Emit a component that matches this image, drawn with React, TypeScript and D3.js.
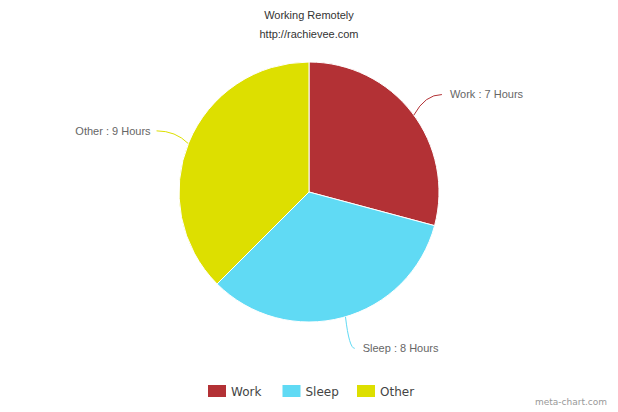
import { pie, arc, scalePoint } from 'd3';

// Data
const categories = ['Work', 'Sleep', 'Other'];
const hours = [7, 8, 9];
const sliceColors = ['#b33135', '#60daf4', '#dddf00'];

const title = 'Working Remotely';
const subtitle = 'http://rachievee.com';
const credits = 'meta-chart.com';

// Layout
const width = 618;
const height = 412;
const cx = 309;
const cy = 192;
const radius = 130;
const labelRadius = 165;
// small per-label tweaks so the connectors end where the original's do
const labelNudge: Record<string, [number, number]> = {
  Work: [2, 3],
  Sleep: [3, -3],
  Other: [0, 2],
};

type Slice = { name: string; value: number; color: string };

export default function App() {
  const slices: Slice[] = categories.map((name, i) => ({
    name,
    value: hours[i],
    color: sliceColors[i],
  }));

  const arcs = pie<Slice>()
    .value((d) => d.value)
    .sort(null)(slices);

  const arcGen = arc<any>().innerRadius(0).outerRadius(radius);

  const legendX = scalePoint<string>()
    .domain(categories)
    .range([208, 357]);

  return (
    <svg
      width={width}
      height={height}
      style={{ position: 'absolute', left: 0, top: 0, background: '#fff' }}
      fontFamily="'Liberation Sans', Arial, sans-serif"
    >
      <text x={cx} y={19} textAnchor="middle" fontSize={11} fill="#333">
        {title}
      </text>
      <text x={cx} y={38} textAnchor="middle" fontSize={11} fill="#333">
        {subtitle}
      </text>

      <g transform={`translate(${cx},${cy})`}>
        {arcs.map((a) => (
          <path
            key={a.data.name}
            d={arcGen(a) as string}
            fill={a.data.color}
            stroke="#fff"
            strokeWidth={1}
          />
        ))}

        {arcs.map((a) => {
          const mid = (a.startAngle + a.endAngle) / 2;
          const [nx, ny] = labelNudge[a.data.name] ?? [0, 0];
          const ex = Math.sin(mid) * labelRadius + nx;
          const ey = -Math.cos(mid) * labelRadius + ny;
          const len = Math.hypot(ex, ey);
          const sx = (ex / len) * radius;
          const sy = (ey / len) * radius;
          const right = ex > 0;
          const qx = sx + (ex - sx) * 0.4;
          return (
            <g key={a.data.name + '-label'}>
              <path
                d={`M${sx},${sy}Q${qx},${ey} ${ex},${ey}`}
                fill="none"
                stroke={a.data.color}
                strokeWidth={1}
              />
              <text
                x={right ? ex + 8 : ex - 6}
                y={ey}
                dy="0.35em"
                textAnchor={right ? 'start' : 'end'}
                fontSize={11}
                fill="#666"
              >
                {`${a.data.name} : ${a.data.value} Hours`}
              </text>
            </g>
          );
        })}
      </g>

      <g fontFamily="'DejaVu Sans', sans-serif">
        {slices.map((s) => (
          <g key={s.name + '-legend'} transform={`translate(${legendX(s.name)},385)`}>
            <rect width={18} height={12} fill={s.color} />
            <text x={23} y={6} dy="0.38em" fontSize={12} fill="#444">
              {s.name}
            </text>
          </g>
        ))}
        <text x={607} y={402} dy="0.35em" textAnchor="end" fontSize={9} fill="#999">
          {credits}
        </text>
      </g>
    </svg>
  );
}
